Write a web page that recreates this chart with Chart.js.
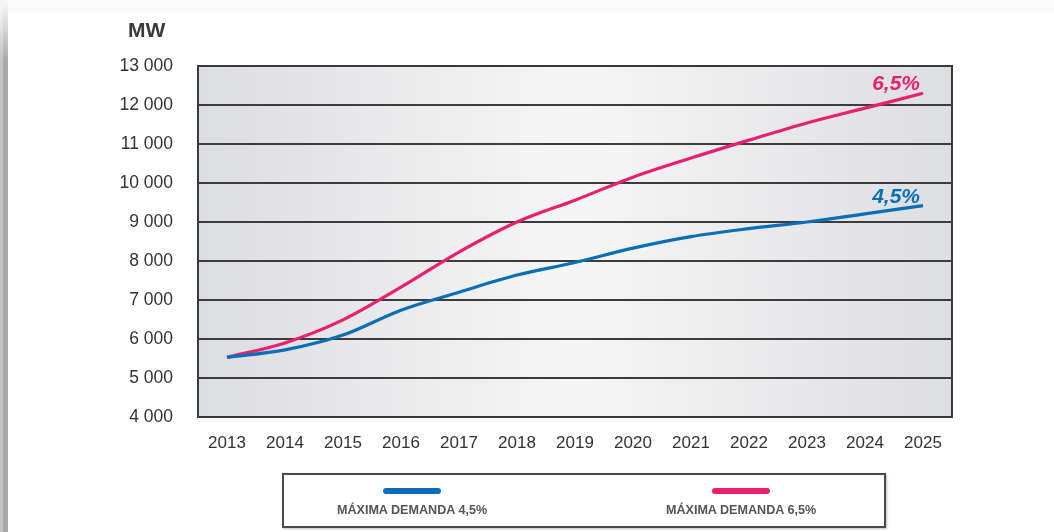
<!DOCTYPE html>
<html>
<head>
<meta charset="utf-8">
<script src="https://cdn.jsdelivr.net/npm/chart.js@4.4.1/dist/chart.umd.min.js"></script>
<style>
  html, body { margin: 0; padding: 0; background: #fff; width: 1054px; height: 532px; overflow: hidden; font-family: "Liberation Sans", Arial, sans-serif; }
  #edge1 { position: absolute; left: 0; top: 0; width: 3px; height: 532px; background: linear-gradient(to bottom, #f6f6f6 0px, #f0f0f0 14px, #c4c4c4 60px, #c4c4c4 100%); }
  #edge2 { position: absolute; left: 3px; top: 0; width: 5px; height: 532px; background: linear-gradient(to bottom, #f8f8f8 0px, #e8e8e8 14px, #a8a8a8 62px, #a8a8a8 100%); }
  #topband { position: absolute; left: 8px; top: 0; width: 1046px; height: 12px; background: #fafafa; }
  #chart { position: absolute; left: 0; top: 0; }
  #unit { position: absolute; left: 128px; top: 18px; font: bold 21px "Liberation Sans", Arial, sans-serif; color: #3a3a3a; }
  #legend { position: absolute; left: 282px; top: 473px; width: 600px; height: 51px; border: 2px solid #4a4a4a; background: #fff; box-shadow: 1px 1px 2px rgba(0,0,0,0.25); }
  .item { position: absolute; top: 0; width: 220px; text-align: center; }
  .swatch { position: absolute; top: 13px; left: 81px; width: 58px; height: 6px; border-radius: 3px; }
  .ltext { position: absolute; top: 28px; left: 0; width: 220px; text-align: center; font: bold 12.6px "Liberation Sans", Arial, sans-serif; color: #555; }
</style>
</head>
<body>
<div id="edge1"></div><div id="edge2"></div><div id="topband"></div>
<canvas id="chart" width="1054" height="532"></canvas>
<div id="unit">MW</div>
<div id="legend"></div>
<script>
const years = ['2013','2014','2015','2016','2017','2018','2019','2020','2021','2022','2023','2024','2025'];
const demanda45 = [5530, 5720, 6100, 6740, 7200, 7640, 7960, 8330, 8625, 8830, 9000, 9210, 9420];
const demanda65 = [5530, 5900, 6490, 7330, 8230, 9000, 9560, 10150, 10640, 11100, 11540, 11920, 12300];
const seriesNames = ['MÁXIMA DEMANDA 4,5%', 'MÁXIMA DEMANDA 6,5%'];
const endLabels = ['4,5%', '6,5%'];
const seriesColors = ['#0b6fb8', '#e8206f'];
const yMin = 4000, yMax = 13000, yStep = 1000;

const fmt = v => String(v).replace(/\B(?=(\d{3})+(?!\d))/g, ' ');

const bgPlugin = {
  id: 'plotBg',
  beforeDraw(chart) {
    const {ctx, chartArea: a} = chart;
    const g = ctx.createLinearGradient(a.left, 0, a.right, 0);
    g.addColorStop(0, '#dcdde0');
    g.addColorStop(0.5, '#f6f6f6');
    g.addColorStop(1, '#dddee1');
    ctx.save();
    ctx.fillStyle = g;
    ctx.fillRect(a.left, a.top, a.right - a.left, a.bottom - a.top);
    ctx.restore();
  },
  afterDatasetsDraw(chart) {
    const {ctx, chartArea: a} = chart;
    ctx.save();
    ctx.strokeStyle = '#3a3a3a';
    ctx.lineWidth = 2;
    ctx.strokeRect(a.left, a.top, a.right - a.left, a.bottom - a.top);
    chart.data.datasets.forEach((ds, i) => {
      const meta = chart.getDatasetMeta(i);
      const p = meta.data[meta.data.length - 1];
      ctx.font = 'italic bold 21px "Liberation Sans", Arial, sans-serif';
      ctx.fillStyle = ds.borderColor;
      ctx.textAlign = 'right';
      ctx.textBaseline = 'alphabetic';
      ctx.fillText(endLabels[i], p.x - 3, p.y - 3);
    });
    ctx.restore();
  }
};

new Chart(document.getElementById('chart'), {
  type: 'line',
  data: {
    labels: years,
    datasets: [
      { label: seriesNames[0], data: demanda45, borderColor: seriesColors[0], backgroundColor: seriesColors[0], borderWidth: 3.2, pointRadius: 0, cubicInterpolationMode: 'monotone', fill: false },
      { label: seriesNames[1], data: demanda65, borderColor: seriesColors[1], backgroundColor: seriesColors[1], borderWidth: 3.2, pointRadius: 0, cubicInterpolationMode: 'monotone', fill: false }
    ]
  },
  options: {
    responsive: false,
    animation: false,
    layout: { padding: { left: 0, top: 66, right: 102, bottom: 0 } },
    plugins: { legend: { display: false }, tooltip: { enabled: false } },
    scales: {
      x: {
        type: 'category',
        offset: true,
        grid: { display: false, drawTicks: false },
        border: { display: true, color: '#3a3a3a', width: 2 },
        ticks: { color: '#333', padding: 16, font: { family: '"Liberation Sans", Arial, sans-serif', size: 17 }, maxRotation: 0, autoSkip: false },
        afterFit(s) { s.height = 115; }
      },
      y: {
        min: yMin, max: yMax,
        grid: { color: '#3c3c3c', lineWidth: 2, drawTicks: false },
        border: { display: true, color: '#3a3a3a', width: 2 },
        ticks: { stepSize: yStep, color: '#333', padding: 25, font: { family: '"Liberation Sans", Arial, sans-serif', size: 17.5 }, callback: v => fmt(v) },
        afterFit(s) { s.width = 198; }
      }
    }
  },
  plugins: [bgPlugin]
});

// HTML legend built from the series
const legend = document.getElementById('legend');
const centers = [128, 457];
seriesNames.forEach((name, i) => {
  const it = document.createElement('div');
  it.className = 'item';
  it.style.left = (centers[i] - 110) + 'px';
  const sw = document.createElement('div');
  sw.className = 'swatch';
  sw.style.background = seriesColors[i];
  const tx = document.createElement('div');
  tx.className = 'ltext';
  tx.textContent = name;
  it.appendChild(sw); it.appendChild(tx);
  legend.appendChild(it);
});
</script>
</body>
</html>
